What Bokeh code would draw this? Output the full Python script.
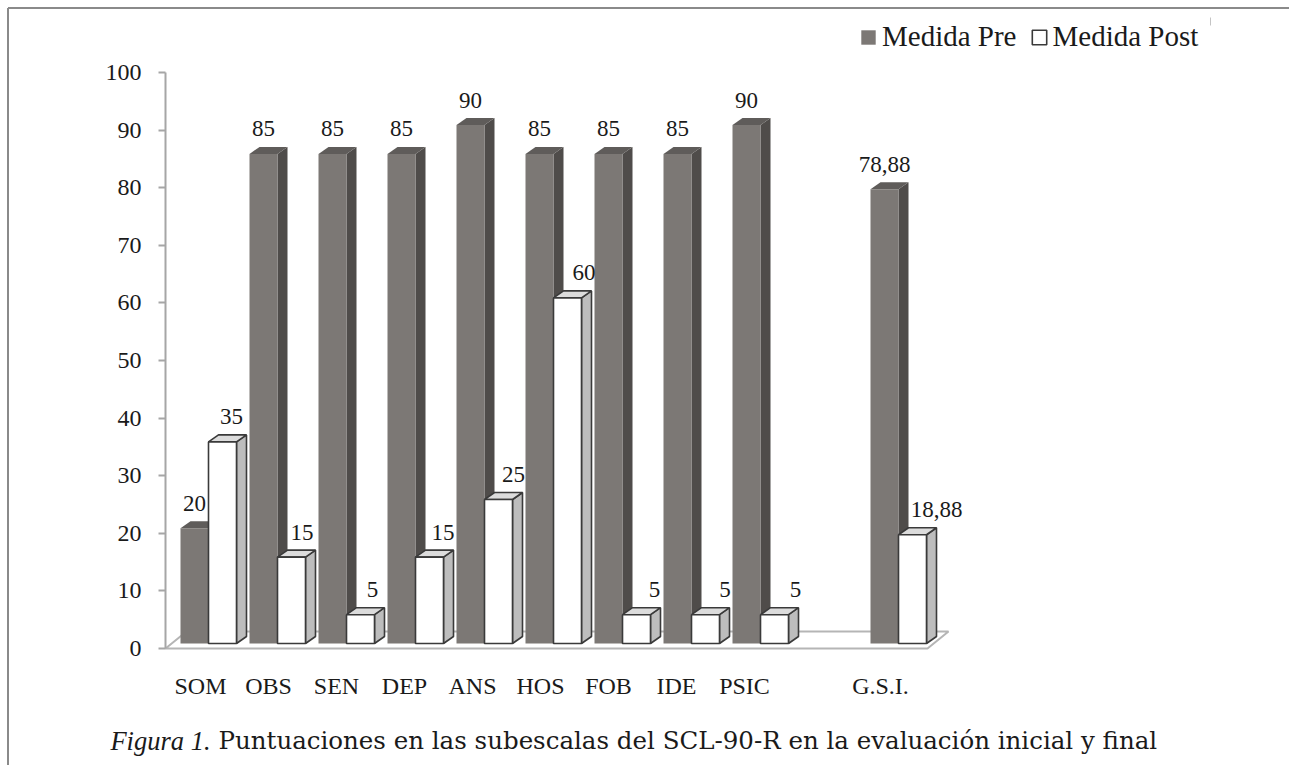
from bokeh.plotting import figure
from bokeh.models import (ColumnDataSource, LinearAxis, FixedTicker, Range1d,
                          Legend, LegendItem)
from bokeh.core.properties import value
from bokeh.embed import file_html
from bokeh.resources import INLINE

# ---------------- data ----------------
categories = ["SOM", "OBS", "SEN", "DEP", "ANS", "HOS", "FOB", "IDE", "PSIC", "", "G.S.I."]
pre_values = [20, 85, 85, 85, 90, 85, 85, 85, 90, None, 78.88]
post_values = [35, 15, 5, 15, 25, 60, 5, 5, 5, None, 18.88]
y_ticks = [0, 10, 20, 30, 40, 50, 60, 70, 80, 90, 100]
series_names = ["Medida Pre", "Medida Post"]
caption_italic = "Figura 1."
caption_text = "Puntuaciones en las subescalas del SCL-90-R en la evaluación inicial y final"

# ---------------- layout helpers (pixels -> data units) ----------------
W, H = 1289, 765
PXX = 69.0      # px per category slot
PXY = 5.76      # px per value unit
ORIGIN_X = 208  # page x of slot 0 centre
ORIGIN_Y = 648  # page y of value 0
TEXT_UP = 7     # baseline correction for text glyphs (px)


def dx(px):
    return px / PXX


def dy(px):
    return px / PXY


def px_x(page_x):
    return (page_x - ORIGIN_X) / PXX


def px_y(page_y):
    return (ORIGIN_Y - page_y) / PXY


x0, x1 = px_x(0), px_x(W)
y0, y1 = px_y(H), px_y(0)

FONT = value("Liberation Serif")
TXT = "#1a1a1a"

BAR_W = dx(28)
BASE = dy(5)
DX3 = dx(10)
DY3 = dy(7)


def faces(L, R, top):
    front = ([L, R, R, L], [BASE, BASE, top, top])
    topf = ([L, R, R + DX3, L + DX3], [top, top, top + DY3, top + DY3])
    side = ([R, R + DX3, R + DX3, R], [BASE, BASE + DY3, top + DY3, top])
    return front, topf, side


def build(values, offset_sign):
    fr = {"xs": [], "ys": []}
    tp = {"xs": [], "ys": []}
    sd = {"xs": [], "ys": []}
    for s, v in enumerate(values):
        if v is None:
            continue
        if offset_sign < 0:
            L, R = s - BAR_W, s
        else:
            L, R = s, s + BAR_W
        f, t, d = faces(L, R, BASE + v)
        for dct, (xs, ys) in ((fr, f), (tp, t), (sd, d)):
            dct["xs"].append(xs)
            dct["ys"].append(ys)
    return ColumnDataSource(fr), ColumnDataSource(tp), ColumnDataSource(sd)


p = figure(width=W, height=H, x_range=Range1d(x0, x1), y_range=Range1d(y0, y1),
           x_axis_type=None, y_axis_type=None, toolbar_location=None,
           output_backend="svg", min_border=0, outline_line_color=None,
           background_fill_color="white", border_fill_color="white")

# page border (top and left)
p.line([px_x(7.5), px_x(7.5)], [y0, px_y(7.5)], line_color="#8a8a8a", line_width=2)
p.line([px_x(7.5), x1], [px_y(7.5), px_y(7.5)], line_color="#8a8a8a", line_width=2)
p.segment(x0=[px_x(1210)], y0=[px_y(17)], x1=[px_x(1210)], y1=[px_y(25)],
          line_color="#c4c4c4", line_width=1)

# floor
axis_x = px_x(165)
n_slots = len(categories)
floor_r = (n_slots - 1) + dx(29)
p.patch([axis_x, floor_r, floor_r + dx(21), axis_x + dx(21)],
        [0, 0, dy(17), dy(17)], fill_color="white",
        line_color="#b5b5b5", line_width=2)

# pre bars
pre_f, pre_t, pre_s = build(pre_values, -1)
p.patches("xs", "ys", source=pre_s, fill_color="#4f4c4a", line_color=None)
p.patches("xs", "ys", source=pre_t, fill_color="#5f5c5a", line_color=None)
pre_front = p.patches("xs", "ys", source=pre_f, fill_color="#7c7875", line_color=None)

# post bars
post_f, post_t, post_s = build(post_values, 1)
OUT = "#3a3a3a"
p.patches("xs", "ys", source=post_s, fill_color="#bdbdbd", line_color=OUT, line_width=1.6)
p.patches("xs", "ys", source=post_t, fill_color="#dcdcdc", line_color=OUT, line_width=1.6)
post_front = p.patches("xs", "ys", source=post_f, fill_color="white", line_color=OUT,
                       line_width=1.6)


def fmt(v):
    return f"{v:g}".replace(".", ",")


# data labels
lx, ly, lt = [], [], []
for s, v in enumerate(pre_values):
    if v is None:
        continue
    lx.append(s - BAR_W / 2)
    ly.append(BASE + v + dy(18 + TEXT_UP))
    lt.append(fmt(v))
for s, v in enumerate(post_values):
    if v is None:
        continue
    lx.append(s + BAR_W / 2 + dx(9 + 1.5 * s))
    ly.append(BASE + v + dy(18 + TEXT_UP))
    lt.append(fmt(v))
p.text(x=lx, y=ly, text=lt, text_font=FONT, text_font_size="23px",
       text_color=TXT, text_align="center", text_baseline="alphabetic")

# category labels
cx, ct = [], []
for s, c in enumerate(categories):
    if c == "":
        continue
    cx.append(s - dx(8 + 1.0 * s))
    ct.append(c)
p.text(x=cx, y=[dy(-44 + TEXT_UP)] * len(cx), text=ct, text_font=FONT,
       text_font_size="24px", text_color=TXT, text_align="center",
       text_baseline="alphabetic")

# y axis
yax = LinearAxis(fixed_location=axis_x, bounds=(0, 100),
                 ticker=FixedTicker(ticks=y_ticks))
yax.axis_line_color = "#a6a6a6"
yax.axis_line_width = 2
yax.major_tick_line_color = "#a6a6a6"
yax.major_tick_line_width = 2
yax.major_tick_out = 7
yax.major_tick_in = 0
yax.minor_tick_line_color = None
yax.major_label_standoff = 17
yax.major_label_text_font = "Liberation Serif"
yax.major_label_text_font_size = "24px"
yax.major_label_text_color = TXT
p.add_layout(yax, "left")

# legend
legend = Legend(items=[LegendItem(label=series_names[0], renderers=[pre_front]),
                       LegendItem(label=series_names[1], renderers=[post_front])],
                orientation="horizontal", location=(859, 712),
                label_text_font="Liberation Serif", label_text_font_size="29px",
                label_text_color=TXT, glyph_width=18, glyph_height=18,
                label_standoff=5, spacing=13, padding=0, margin=0,
                border_line_color=None, background_fill_alpha=0)
p.add_layout(legend)

# caption
p.text(x=[px_x(210)], y=[px_y(747 - TEXT_UP)], text=[caption_italic],
       text_font=FONT, text_font_size="26.5px", text_font_style="italic",
       text_color=TXT, text_align="right", text_baseline="alphabetic")
p.text(x=[px_x(218)], y=[px_y(747 - TEXT_UP)], text=[caption_text],
       text_font=value("DejaVu Serif"), text_font_size="24.5px", text_color=TXT,
       text_align="left", text_baseline="alphabetic")

open("out.html", "w").write(file_html(p, INLINE))
